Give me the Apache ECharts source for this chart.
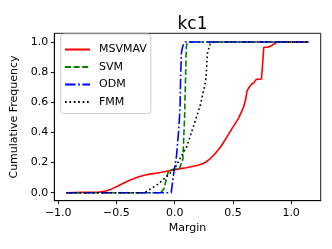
<!DOCTYPE html>
<html>
<head>
<meta charset="utf-8">
<script src="https://cdn.jsdelivr.net/npm/echarts@6/dist/echarts.min.js"></script>
<style>html,body{margin:0;padding:0;background:#fff;}#c{width:332px;height:249px;}</style>
</head>
<body>
<div id="c"></div>
<script>
const seriesNames = ['MSVMAV', 'SVM', 'ODM', 'FMM'];
const xTicks = [-1.0, -0.5, 0.0, 0.5, 1.0];
const yTicks = [0.0, 0.2, 0.4, 0.6, 0.8, 1.0];
const msvmav = [[-0.93,0],[-0.8,0.002],[-0.7,0.003],[-0.65,0.004],[-0.6,0.01],[-0.55,0.022],[-0.5,0.04],[-0.45,0.06],[-0.4,0.078],[-0.35,0.095],[-0.3,0.107],[-0.25,0.117],[-0.2,0.125],[-0.15,0.131],[-0.1,0.138],[-0.05,0.145],[0,0.153],[0.05,0.16],[0.1,0.166],[0.15,0.174],[0.2,0.182],[0.25,0.195],[0.3,0.222],[0.35,0.262],[0.4,0.31],[0.45,0.372],[0.5,0.435],[0.55,0.497],[0.59,0.565],[0.61,0.62],[0.62,0.672],[0.64,0.7],[0.66,0.72],[0.68,0.73],[0.7,0.752],[0.745,0.755],[0.755,0.85],[0.765,0.965],[0.8,0.965],[0.83,0.975],[0.86,0.99],[0.88,1.0],[1.15,1.0]];
const svm = [[-0.93,0],[-0.12,0],[-0.09,0.03],[-0.07,0.1],[-0.05,0.15],[0.04,0.16],[0.07,0.22],[0.085,0.5],[0.1,0.97],[0.11,1.0],[1.15,1.0]];
const odm = [[-0.93,0],[-0.03,0],[-0.01,0.12],[0.015,0.24],[0.035,0.42],[0.046,0.57],[0.052,0.8],[0.058,0.93],[0.07,0.975],[0.09,1.0],[1.15,1.0]];
const fmm = [[-0.93,0],[-0.26,0],[-0.24,0.01],[-0.155,0.05],[-0.07,0.106],[0,0.16],[0.069,0.26],[0.103,0.305],[0.16,0.438],[0.22,0.58],[0.26,0.72],[0.27,0.77],[0.281,0.925],[0.304,0.987],[0.333,1.0],[1.15,1.0]];

const chart = echarts.init(document.getElementById('c'), null, {renderer: 'canvas'});
const font = 'DejaVu Sans';
function ln(name, data, color, type) {
  return {name, type: 'line', data, symbol: 'none', smooth: false, animation: false,
    lineStyle: {color, width: 1.6, type, cap: 'butt'}, itemStyle: {color}};
}
chart.setOption({
  animation: false,
  title: {text: 'kc1', left: 187.5, top: 11, textAlign: 'center',
    textStyle: {fontFamily: font, fontSize: 17, fontWeight: 'normal', color: '#000'}},
  grid: {left: 54.3, right: 11.3, top: 33.3, bottom: 48.3, show: true, borderColor: '#000', borderWidth: 0.9, containLabel: false},
  legend: {orient: 'vertical', left: 60.7, top: 34, data: seriesNames,
    itemWidth: 25, itemHeight: 10, itemGap: 6.5,
    padding: [10, 4, 6, 3.3],
    itemStyle: {opacity: 0},
    backgroundColor: 'rgba(255,255,255,0.8)', borderColor: '#cccccc', borderWidth: 1, borderRadius: 3,
    textStyle: {fontFamily: font, fontSize: 11, color: '#000', padding: [0, 0, 0, 4]}},
  xAxis: {type: 'value', min: -1.034, max: 1.254, name: 'Margin', nameLocation: 'middle', nameGap: 21,
    nameTextStyle: {fontFamily: font, fontSize: 11, color: '#000'},
    axisLine: {show: true, onZero: false, lineStyle: {color: '#000', width: 0.9}},
    axisTick: {show: true, inside: false, length: 3.5, customValues: xTicks, lineStyle: {color: '#000', width: 0.9}},
    axisLabel: {customValues: xTicks, margin: 6.5, fontFamily: font, fontSize: 11, color: '#000',
      formatter: v => (v < 0 ? '\u2212' : '') + Math.abs(v).toFixed(1)},
    splitLine: {show: false}},
  yAxis: {type: 'value', min: -0.053, max: 1.058, name: 'Cumulative Frequency', nameLocation: 'middle', nameGap: 30,
    nameTextStyle: {fontFamily: font, fontSize: 11, color: '#000'},
    axisLine: {show: true, onZero: false, lineStyle: {color: '#000', width: 0.9}},
    axisTick: {show: true, inside: false, length: 3.5, customValues: yTicks, lineStyle: {color: '#000', width: 0.9}},
    axisLabel: {customValues: yTicks, margin: 6, fontFamily: font, fontSize: 11, color: '#000',
      formatter: v => v.toFixed(1)},
    splitLine: {show: false}},
  series: [
    ln('MSVMAV', msvmav, '#ff0000', 'solid'),
    ln('SVM', svm, '#008000', [6, 2.6]),
    ln('ODM', odm, '#0000ff', [10.5, 2.6, 1.7, 2.6]),
    ln('FMM', fmm, '#000000', [1.7, 2.7])
  ]
});
</script>
</body>
</html>
